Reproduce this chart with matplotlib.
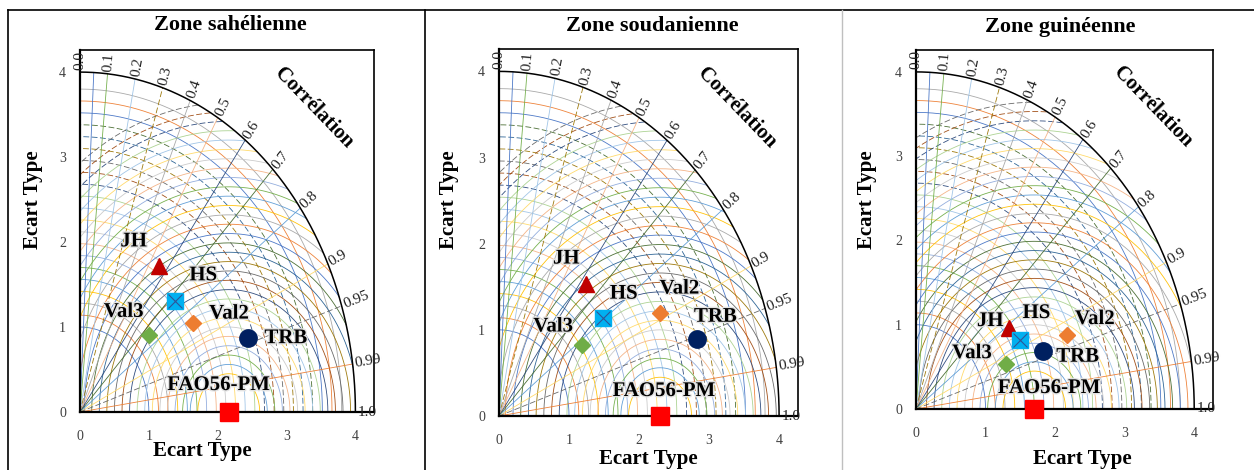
import numpy as np
import matplotlib.pyplot as plt
import matplotlib.patheffects as pe
from matplotlib.lines import Line2D

# Taylor diagrams: ETo models vs FAO56-PM reference, three climate zones
zones = ['Zone sahélienne', 'Zone soudanienne', 'Zone guinéenne']
models = ['JH', 'HS', 'Val2', 'Val3', 'TRB']
ref_name = 'FAO56-PM'
ref_std = [2.16, 2.30, 1.70]

# standard deviation and correlation of each model, per zone
model_std = [
    [2.06, 1.90, 1.95, 1.35, 2.59],
    [1.98, 1.87, 2.60, 1.45, 2.96],
    [1.65, 1.71, 2.34, 1.40, 1.95],
]
model_corr = [
    [0.555, 0.728, 0.842, 0.740, 0.942],
    [0.630, 0.792, 0.887, 0.820, 0.953],
    [0.813, 0.878, 0.927, 0.925, 0.935],
]

corr_ticks = [0.0, 0.1, 0.2, 0.3, 0.4, 0.5, 0.6, 0.7, 0.8, 0.9, 0.95, 0.99, 1.0]
corr_tick_labels = ['0.0', '0.1', '0.2', '0.3', '0.4', '0.5', '0.6', '0.7',
                    '0.8', '0.9', '0.95', '0.99', '1.0']
corr_rays = [0.05, 0.1, 0.2, 0.3, 0.4, 0.5, 0.6, 0.7, 0.8, 0.9, 0.95, 0.99]
std_ticks = [0, 1, 2, 3, 4]

# marker styles, label offsets in pixels (JH, HS, Val2, Val3, TRB, ref)
marker_style = {
    'JH': dict(marker='^', color='#C00000', ms=12),
    'HS': dict(marker='s', color='#00B0F0', ms=11.5),
    'Val2': dict(marker='D', color='#ED7D31', ms=8.5),
    'Val3': dict(marker='D', color='#70AD47', ms=8.5),
    'TRB': dict(marker='o', color='#002060', ms=12.5),
}
label_offsets = [
    [(-25, 25), (28, 26), (36, 9), (-25, 23), (38, 0), (-10, 27)],
    [(-20, 25), (21, 24), (19, 24), (-29, 18), (19, 22), (4, 25)],
    [(-19, 7), (16, 27), (28, 16), (-34, 11), (35, -6), (15, 21)],
]

# axes boxes in pixels: left, bottom, right, top
W, H = 1254, 470
boxes = [(80, 58, 374, 420), (499, 54, 798, 421), (916, 61, 1213, 420)]
XMAX, YMAX = 4.27, 4.26

light = ['#4472C4', '#ED7D31', '#A5A5A5', '#FFC000', '#5B9BD5', '#70AD47',
         '#8FAADC', '#F4B183', '#C9C9C9', '#FFD966', '#9DC3E6', '#A9D18E']
dark = ['#264478', '#9E480E', '#636363', '#997300', '#255E91', '#43682B']

serif = 'Liberation Serif'
plt.rcParams['font.family'] = serif
halo = [pe.withStroke(linewidth=2.0, foreground='#E3E3E3')]


def grid_style(k):
    # cycle like an office palette: two light rounds, then a dark round
    n = k % 18
    if n < 12:
        return dict(color=light[n], ls='-', lw=0.6, alpha=0.95, zorder=1)
    ls = (0, (7, 3)) if (k // 18) % 2 == 0 else '-'
    return dict(color=dark[n - 12], ls=ls, lw=0.6, alpha=0.95, zorder=1)


def draw_grid(ax, ref):
    t = np.linspace(0, np.pi / 2, 300)
    k = 0
    # circles of equal standard deviation
    for r in np.arange(1.0, 3.9, 0.14):
        ax.plot(r * np.cos(t), r * np.sin(t), **grid_style(k))
        k += 1
    # circles of equal centred RMS difference around the reference
    tt = np.linspace(0, np.pi, 600)
    for R in np.arange(0.45, 3.7, 0.11):
        x = ref + R * np.cos(tt)
        y = R * np.sin(tt)
        bad = (x < 0) | (x ** 2 + y ** 2 > 16)
        x[bad] = np.nan
        y[bad] = np.nan
        ax.plot(x, y, **grid_style(k))
        k += 1
    # correlation rays
    for j, c in enumerate(corr_rays):
        th = np.arccos(c)
        ax.plot([0, 4 * np.cos(th)], [0, 4 * np.sin(th)], **grid_style(j * 5))
    # outer arc
    ax.plot(4 * np.cos(t), 4 * np.sin(t), color='black', lw=1.1, zorder=3)


fig = plt.figure(figsize=(W / 100, H / 100), dpi=100)

for i, zone in enumerate(zones):
    l, b, r, t = boxes[i]
    ax = fig.add_axes([l / W, b / H, (r - l) / W, (t - b) / H])
    ax.set_xlim(0, XMAX)
    ax.set_ylim(0, YMAX)
    draw_grid(ax, ref_std[i])

    for s in ['top', 'right']:
        ax.spines[s].set_linewidth(1.2)
    for s in ['left', 'bottom']:
        ax.spines[s].set_linewidth(1.6)
    ax.set_xticks(std_ticks)
    ax.set_yticks(std_ticks)
    ax.tick_params(length=0, labelsize=10, labelcolor='#404040')
    ax.tick_params(axis='y', pad=10)
    ax.tick_params(axis='x', pad=13)

    # correlation labels along the outer arc
    for c, lab in zip(corr_ticks, corr_tick_labels):
        th = np.arccos(c)
        p0 = ax.transData.transform((0, 0))
        p1 = ax.transData.transform((np.cos(th), np.sin(th)))
        rot = np.degrees(np.arctan2(p1[1] - p0[1], p1[0] - p0[0]))
        ax.text(4.03 * np.cos(th), 4.03 * np.sin(th), lab, rotation=rot,
                rotation_mode='anchor', ha='left', va='center', fontsize=11,
                color='#202020', zorder=4, clip_on=False)
    ax.text(3.4, 3.58, 'Corrélation', rotation=-46, ha='center', va='center',
            fontsize=15, fontweight='bold', zorder=4)

    # reference point
    ax.plot(ref_std[i], 0, marker='s', color='#FF0000', ms=13, ls='none',
            zorder=6, clip_on=False)
    ox, oy = label_offsets[i][-1]
    ax.annotate(ref_name, (ref_std[i], 0), xytext=(ox, oy),
                textcoords='offset pixels', ha='center', va='center',
                fontsize=15, fontweight='bold', zorder=7, path_effects=halo)

    # models
    for j, m in enumerate(models):
        th = np.arccos(model_corr[i][j])
        x = model_std[i][j] * np.cos(th)
        y = model_std[i][j] * np.sin(th)
        st = marker_style[m]
        ax.plot(x, y, marker=st['marker'], color=st['color'], ms=st['ms'],
                ls='none', zorder=6)
        if m == 'HS':
            ax.plot(x, y, marker='x', color='#2F5597', ms=st['ms'] * 0.9,
                    mew=0.8, ls='none', zorder=7)
        ox, oy = label_offsets[i][j]
        ax.annotate(m, (x, y), xytext=(ox, oy), textcoords='offset pixels',
                    ha='center', va='center', fontsize=15,
                    fontweight='bold', zorder=7, path_effects=halo)

# panel titles and axis labels
title_pos = [(230, 25), (652, 26), (1060, 27)]
xlabel_pos = [(202, 451), (648, 459), (1082, 459)]
ylabel_pos = [(33, 200), (449, 200), (867, 200)]
for i, zone in enumerate(zones):
    fig.text(title_pos[i][0] / W, 1 - title_pos[i][1] / H, zone,
             ha='center', va='center', fontsize=16, fontweight='bold')
    fig.text(xlabel_pos[i][0] / W, 1 - xlabel_pos[i][1] / H, 'Ecart Type',
             ha='center', va='center', fontsize=15, fontweight='bold')
    fig.text(ylabel_pos[i][0] / W, 1 - ylabel_pos[i][1] / H, 'Ecart Type',
             ha='center', va='center', rotation=90, fontsize=15,
             fontweight='bold')


# panel frames
def fig_line(x0, y0, x1, y1, color='black', lw=1.2):
    fig.add_artist(Line2D([x0 / W, x1 / W], [1 - y0 / H, 1 - y1 / H],
                          color=color, lw=lw, transform=fig.transFigure))


fig_line(8, 10, W, 10)
fig_line(8, 10, 8, H)
fig_line(425, 10, 425, H)
fig_line(842, 10, 842, H, color='#BFBFBF', lw=1.0)

fig.savefig('out.png', dpi=100)
